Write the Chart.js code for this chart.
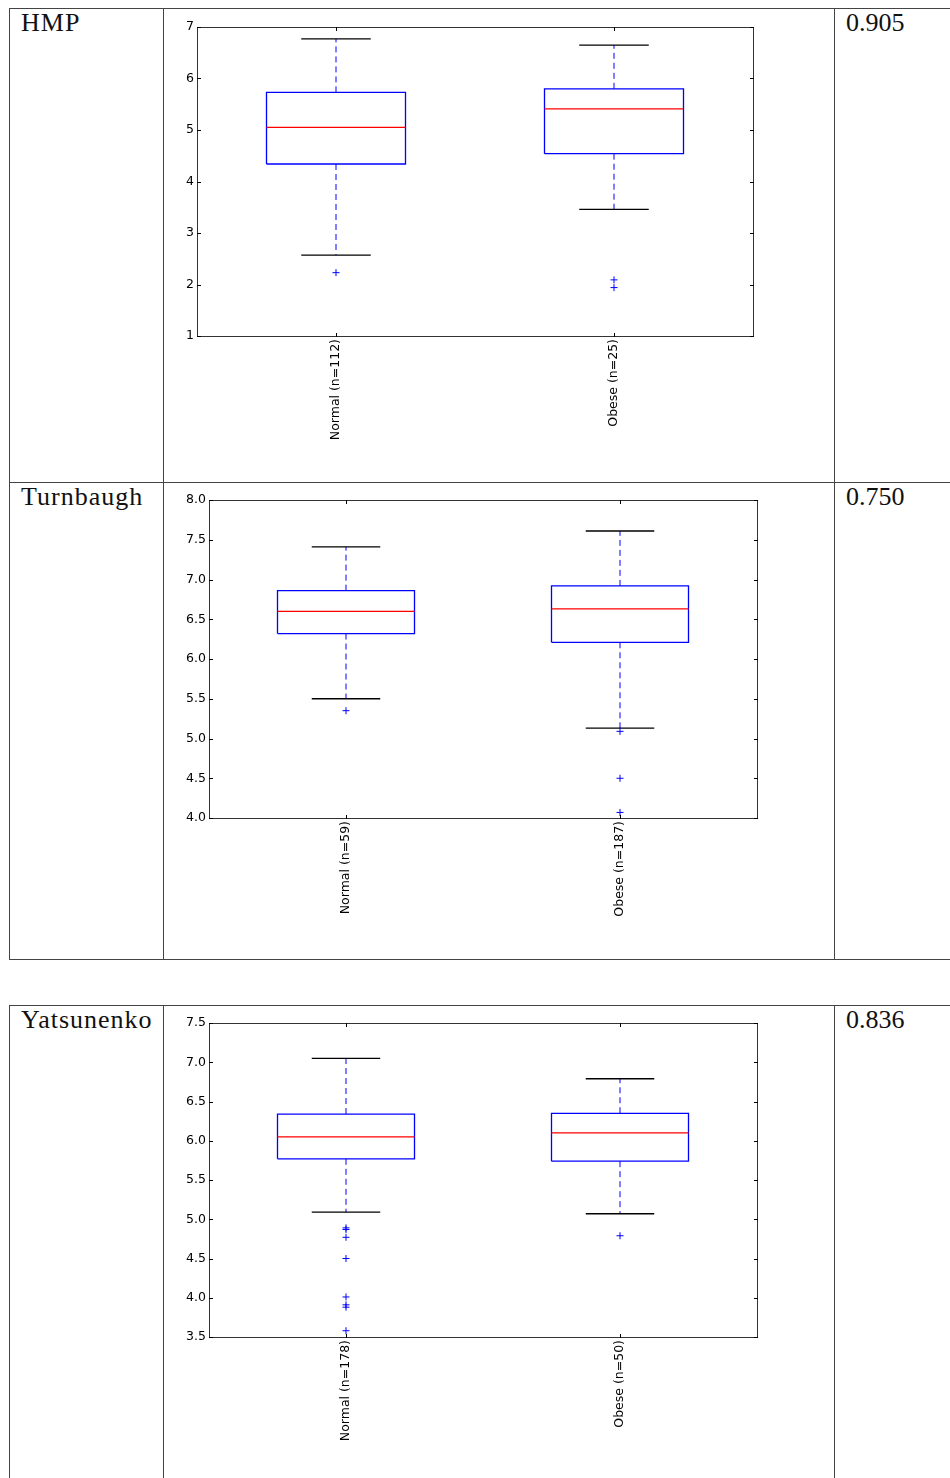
<!DOCTYPE html>
<html>
<head>
<meta charset="utf-8">
<script src="https://cdn.jsdelivr.net/npm/chart.js@4.4.0/dist/chart.umd.min.js"></script>
<style>
html,body{margin:0;padding:0;background:#fff;}
body{width:950px;height:1478px;position:relative;overflow:hidden;}
.hl,.vl{position:absolute;background:#444;}
.hl{height:1px;}
.vl{width:1px;}
.txt{position:absolute;font-family:"Liberation Serif","Times New Roman",serif;font-size:26px;line-height:26px;color:#111;white-space:nowrap;}
.ttl{letter-spacing:1px;}
canvas.cv{position:absolute;left:164px;}
</style>
</head>
<body>
<!-- table 1 -->
<div class="hl" style="left:9px;top:8px;width:941px"></div>
<div class="hl" style="left:9px;top:482px;width:941px"></div>
<div class="hl" style="left:9px;top:959px;width:941px"></div>
<div class="vl" style="left:9px;top:8px;height:952px"></div>
<div class="vl" style="left:163px;top:8px;height:952px"></div>
<div class="vl" style="left:834px;top:8px;height:952px"></div>
<!-- table 2 -->
<div class="hl" style="left:9px;top:1005px;width:941px"></div>
<div class="vl" style="left:9px;top:1005px;height:473px"></div>
<div class="vl" style="left:163px;top:1005px;height:473px"></div>
<div class="vl" style="left:834px;top:1005px;height:473px"></div>

<div class="txt ttl" style="left:21px;top:10px">HMP</div>
<div class="txt" style="left:846px;top:10px">0.905</div>
<div class="txt ttl" style="left:21px;top:484px">Turnbaugh</div>
<div class="txt" style="left:846px;top:484px">0.750</div>
<div class="txt ttl" style="left:21px;top:1007px">Yatsunenko</div>
<div class="txt" style="left:846px;top:1007px">0.836</div>

<canvas id="c1" class="cv" width="670" height="472" style="top:9px;width:670px;height:472px"></canvas>
<canvas id="c2" class="cv" width="670" height="476" style="top:483px;width:670px;height:476px"></canvas>
<canvas id="c3" class="cv" width="670" height="472" style="top:1006px;width:670px;height:472px"></canvas>

<script>
// ---------- data ----------
// HMP
const hmpCategories = ["Normal (n=112)", "Obese (n=25)"];
const hmpYTicks = ["1", "2", "3", "4", "5", "6", "7"];
const hmpWhiskerLow = [2.57, 3.46];
const hmpQ1 = [4.34, 4.54];
const hmpMedian = [5.05, 5.41];
const hmpQ3 = [5.73, 5.80];
const hmpWhiskerHigh = [6.77, 6.65];
const hmpOutliers = [[2.23], [2.09, 1.94]];

// Turnbaugh
const turnCategories = ["Normal (n=59)", "Obese (n=187)"];
const turnYTicks = ["4.0", "4.5", "5.0", "5.5", "6.0", "6.5", "7.0", "7.5", "8.0"];
const turnWhiskerLow = [5.50, 5.13];
const turnQ1 = [6.32, 6.21];
const turnMedian = [6.60, 6.63];
const turnQ3 = [6.86, 6.92];
const turnWhiskerHigh = [7.41, 7.61];
const turnOutliers = [[5.35], [5.09, 4.50, 4.07]];

// Yatsunenko
const yatsCategories = ["Normal (n=178)", "Obese (n=50)"];
const yatsYTicks = ["3.5", "4.0", "4.5", "5.0", "5.5", "6.0", "6.5", "7.0", "7.5"];
const yatsWhiskerLow = [5.09, 5.07];
const yatsQ1 = [5.77, 5.74];
const yatsMedian = [6.05, 6.10];
const yatsQ3 = [6.34, 6.35];
const yatsWhiskerHigh = [7.05, 6.79];
const yatsOutliers = [[4.89, 4.87, 4.77, 4.50, 4.01, 3.91, 3.88, 3.58], [4.79]];

// ---------- rendering ----------
Chart.defaults.font.family = "'DejaVu Sans', sans-serif";
Chart.defaults.font.size = 12.5;
Chart.defaults.color = '#000';

const BLUE = '#0000ff', RED = '#ff0000', BLACK = '#000000';
const HALF_BOX = 0.25, HALF_CAP = 0.125;

const framePlugin = {
  id: 'frame',
  afterDatasetsDraw(chart) {
    const {ctx, chartArea: a, scales} = chart;
    ctx.save();
    ctx.strokeStyle = '#333';
    ctx.lineWidth = 1;
    ctx.strokeRect(a.left + 0.5, a.top + 0.5, a.right - a.left, a.bottom - a.top);
    ctx.strokeStyle = '#000';
    ctx.beginPath();
    scales.y.ticks.forEach(t => {
      const py = Math.round(scales.y.getPixelForValue(t.value)) + 0.5;
      ctx.moveTo(a.left, py); ctx.lineTo(a.left + 4, py);
      ctx.moveTo(a.right + 1, py); ctx.lineTo(a.right - 3, py);
    });
    scales.x.ticks.forEach(t => {
      const px = Math.round(scales.x.getPixelForValue(t.value)) + 0.5;
      ctx.moveTo(px, a.bottom + 1); ctx.lineTo(px, a.bottom - 3);
      ctx.moveTo(px, a.top); ctx.lineTo(px, a.top + 4);
    });
    ctx.stroke();
    ctx.restore();
  }
};

function seg(points, color, width, dash) {
  return {
    type: 'line', data: points, showLine: true, fill: false,
    borderColor: color, borderWidth: width, borderDash: dash || [],
    pointRadius: 0, tension: 0
  };
}

function buildDatasets(lo, q1, med, q3, hi, outliers) {
  const front = [], back = [];
  for (let i = 0; i < q1.length; i++) {
    const p = i + 1;
    front.push({
      type: 'scatter',
      data: outliers[i].map(v => ({x: p, y: v})),
      pointStyle: 'cross', pointRadius: 3.5, borderColor: BLUE, borderWidth: 1,
      backgroundColor: BLUE, showLine: false
    });
    front.push(seg([{x: p - HALF_BOX, y: med[i]}, {x: p + HALF_BOX, y: med[i]}], RED, 1.3));
    front.push(seg([
      {x: p - HALF_BOX, y: q1[i]}, {x: p + HALF_BOX, y: q1[i]},
      {x: p + HALF_BOX, y: q3[i]}, {x: p - HALF_BOX, y: q3[i]},
      {x: p - HALF_BOX, y: q1[i]}
    ], BLUE, 1.3));
    back.push(seg([{x: p - HALF_CAP, y: hi[i]}, {x: p + HALF_CAP, y: hi[i]}], BLACK, 1.3));
    back.push(seg([{x: p - HALF_CAP, y: lo[i]}, {x: p + HALF_CAP, y: lo[i]}], BLACK, 1.3));
    back.push(seg([{x: p, y: q3[i]}, {x: p, y: hi[i]}], BLUE, 1, [6, 4]));
    back.push(seg([{x: p, y: q1[i]}, {x: p, y: lo[i]}], BLUE, 1, [6, 4]));
  }
  return front.concat(back);
}

function makeChart(id, cfg) {
  const yVals = cfg.yTicks.map(parseFloat);
  new Chart(document.getElementById(id), {
    type: 'scatter',
    data: {datasets: buildDatasets(cfg.lo, cfg.q1, cfg.med, cfg.q3, cfg.hi, cfg.out)},
    options: {
      responsive: false, animation: false, devicePixelRatio: 1, events: [],
      layout: {padding: {left: 0, right: cfg.padRight, top: cfg.padTop, bottom: 0}},
      plugins: {legend: {display: false}, tooltip: {enabled: false}, title: {display: false}},
      scales: {
        x: {
          type: 'linear', min: 0.5, max: 2.5,
          grid: {display: false, drawTicks: false}, border: {display: false},
          afterBuildTicks: s => { s.ticks = cfg.categories.map((c, i) => ({value: i + 1})); },
          afterFit: s => { s.height = cfg.xHeight; },
          ticks: {
            autoSkip: false, minRotation: 90, maxRotation: 90, padding: 3,
            font: {size: 12.5}, color: '#000',
            callback: (v, i) => cfg.categories[i]
          }
        },
        y: {
          type: 'linear', min: yVals[0], max: yVals[yVals.length - 1],
          grid: {display: false, drawTicks: false}, border: {display: false},
          afterBuildTicks: s => { s.ticks = yVals.map(v => ({value: v})); },
          afterFit: s => { s.width = cfg.yWidth; },
          ticks: {padding: 3, font: {size: 12.5}, color: '#000', callback: (v, i) => cfg.yTicks[i]}
        }
      }
    },
    plugins: [framePlugin]
  });
}

makeChart('c1', {
  categories: hmpCategories, yTicks: hmpYTicks,
  lo: hmpWhiskerLow, q1: hmpQ1, med: hmpMedian, q3: hmpQ3, hi: hmpWhiskerHigh, out: hmpOutliers,
  yWidth: 33, padRight: 81, padTop: 18, xHeight: 145
});
makeChart('c2', {
  categories: turnCategories, yTicks: turnYTicks,
  lo: turnWhiskerLow, q1: turnQ1, med: turnMedian, q3: turnQ3, hi: turnWhiskerHigh, out: turnOutliers,
  yWidth: 45, padRight: 77, padTop: 17, xHeight: 141
});
makeChart('c3', {
  categories: yatsCategories, yTicks: yatsYTicks,
  lo: yatsWhiskerLow, q1: yatsQ1, med: yatsMedian, q3: yatsQ3, hi: yatsWhiskerHigh, out: yatsOutliers,
  yWidth: 45, padRight: 77, padTop: 17, xHeight: 141
});
</script>
</body>
</html>
